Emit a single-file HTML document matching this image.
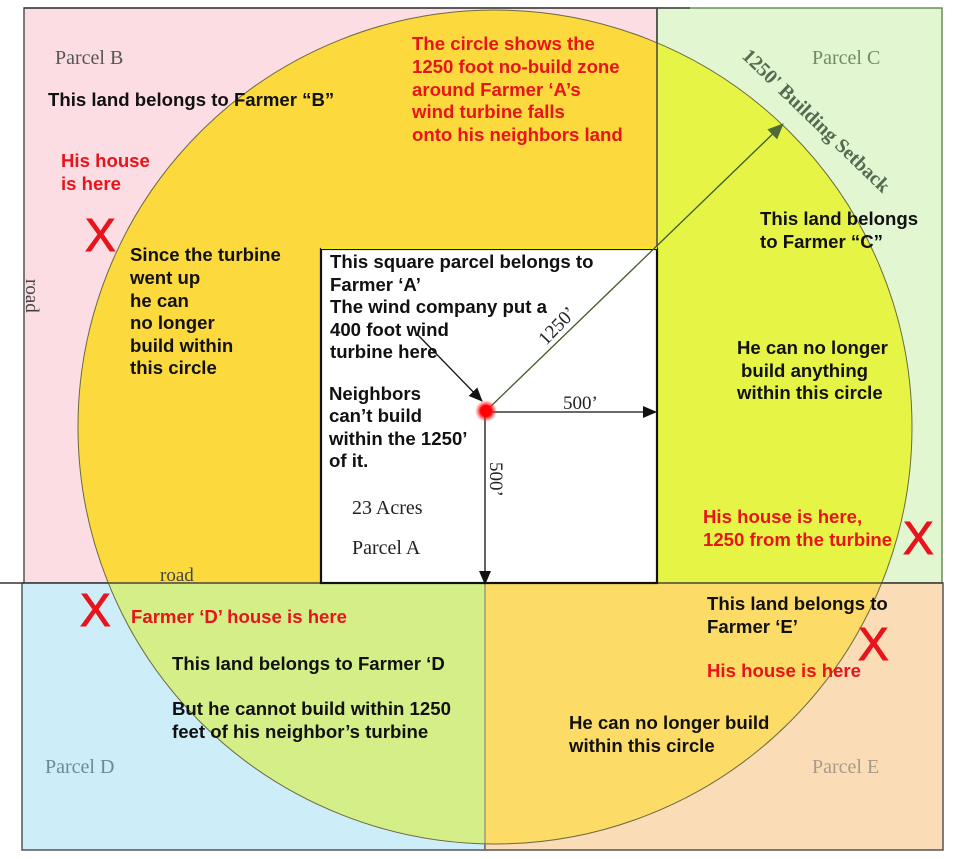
<!DOCTYPE html>
<html><head><meta charset="utf-8"><style>
html,body{margin:0;padding:0;background:#fff;}
svg{display:block;}
.b{font-family:"Liberation Sans",Arial,sans-serif;font-weight:bold;font-size:18.6px;fill:#111;}
.r{font-family:"Liberation Sans",Arial,sans-serif;font-weight:bold;font-size:18.6px;fill:#e8141c;}
.s{font-family:"Liberation Serif","Times New Roman",serif;font-size:20px;}
.x{font-family:"Liberation Sans",Arial,sans-serif;font-size:46px;fill:#e8141c;stroke:#e8141c;stroke-width:1;}
</style></head><body>
<svg width="960" height="859" viewBox="0 0 960 859" xmlns="http://www.w3.org/2000/svg">
<defs>
<clipPath id="cB"><rect x="24" y="8" width="633" height="575"/></clipPath>
<clipPath id="cC"><rect x="657" y="8" width="285" height="575"/></clipPath>
<clipPath id="cD"><rect x="22" y="583" width="463" height="267"/></clipPath>
<clipPath id="cE"><rect x="485" y="583" width="458" height="267"/></clipPath>
<marker id="ar" markerWidth="14" markerHeight="14" refX="13" refY="7" orient="auto" markerUnits="userSpaceOnUse"><path d="M0,1 L14,7 L0,13 z" fill="#111"/></marker>
<marker id="ag" markerWidth="16" markerHeight="16" refX="15" refY="8" orient="auto" markerUnits="userSpaceOnUse"><path d="M0,1 L16,8 L0,15 z" fill="#4f6b35"/></marker>
<radialGradient id="dot"><stop offset="0.5" stop-color="#ff0000"/><stop offset="1" stop-color="#ff4040" stop-opacity="0"/></radialGradient>
</defs>
<rect x="24" y="8" width="633" height="575" fill="#fcdde3" stroke="#555" stroke-width="1.5"/>
<rect x="657" y="8" width="285" height="575" fill="#e2f6d2" stroke="#6b8f55" stroke-width="1.5"/>
<rect x="22" y="583" width="463" height="267" fill="#cdeef9" stroke="#555" stroke-width="1.5"/>
<rect x="485" y="583" width="458" height="267" fill="#fadcb6" stroke="#555" stroke-width="1.5"/>
<line x1="0" y1="583" x2="24" y2="583" stroke="#333" stroke-width="1.5"/>
<line x1="24" y1="8" x2="690" y2="8" stroke="#444" stroke-width="1.5"/>
<circle cx="495" cy="427" r="417" fill="#fcd93c" clip-path="url(#cB)"/>
<circle cx="495" cy="427" r="417" fill="#e6f545" clip-path="url(#cC)"/>
<circle cx="495" cy="427" r="417" fill="#d4ee88" clip-path="url(#cD)"/>
<circle cx="495" cy="427" r="417" fill="#fcdb66" clip-path="url(#cE)"/>
<circle cx="495" cy="427" r="417" fill="none" stroke="#6a6a40" stroke-width="1"/>
<line x1="657" y1="8" x2="657" y2="583" stroke="#444" stroke-width="1.5"/>
<line x1="24" y1="583" x2="943" y2="583" stroke="#444" stroke-width="1.5"/>
<line x1="485" y1="583" x2="485" y2="850" stroke="#777" stroke-width="1"/>
<rect x="321" y="249" width="336" height="334" fill="#fff" stroke="#111" stroke-width="2.2"/>
<line x1="321" y1="248" x2="657" y2="248" stroke="#f5f000" stroke-width="2"/>
<line x1="487" y1="410" x2="783" y2="124" stroke="#3f5a2a" stroke-width="1.3" marker-end="url(#ag)"/>
<line x1="487" y1="412" x2="656" y2="412" stroke="#111" stroke-width="1.3" marker-end="url(#ar)"/>
<line x1="485" y1="412" x2="485" y2="584" stroke="#111" stroke-width="1.3" marker-end="url(#ar)"/>
<line x1="417" y1="334" x2="482" y2="401" stroke="#111" stroke-width="1.3" marker-end="url(#ar)"/>
<circle cx="486" cy="411" r="11" fill="url(#dot)"/>
<text class="s" x="55" y="64" fill="#555">Parcel B</text>
<text class="s" x="812" y="64" fill="#6f8a6a">Parcel C</text>
<text class="s" x="45" y="773" fill="#6c8a95">Parcel D</text>
<text class="s" x="812" y="773" fill="#a89a8a">Parcel E</text>
<text class="s" x="352" y="514" fill="#222">23 Acres</text>
<text class="s" x="352" y="554" fill="#222">Parcel A</text>
<text class="s" x="160" y="581" fill="#444" style="font-size:19px">road</text>
<text class="s" transform="translate(26,279) rotate(90)" fill="#444" style="font-size:19px">road</text>
<text class="s" x="563" y="409" fill="#222" style="font-size:19px">500’</text>
<text class="s" transform="translate(490,462) rotate(90)" fill="#222" style="font-size:19px">500’</text>
<text class="s" transform="translate(546,346) rotate(-46)" fill="#222" style="font-size:19px">1250’</text>
<text class="s" transform="translate(741,57) rotate(44)" fill="#556b4f" style="font-size:20px;font-weight:bold">1250' Building Setback</text>
<text class="b" x="48" y="106">This land belongs to  Farmer “B”</text>
<text class="r"><tspan x="412" y="50">The circle shows the</tspan><tspan x="412" y="73">1250 foot no-build zone</tspan><tspan x="412" y="96">around Farmer ‘A’s</tspan><tspan x="412" y="118">wind turbine falls</tspan><tspan x="412" y="141">onto his neighbors land</tspan></text>
<text class="r"><tspan x="61" y="167">His house</tspan><tspan x="61" y="190">is here</tspan></text>
<text class="x" x="85" y="251">X</text>
<text class="b"><tspan x="130" y="261">Since the turbine</tspan><tspan x="130" y="284">went up</tspan><tspan x="130" y="307">he can</tspan><tspan x="130" y="329">no longer</tspan><tspan x="130" y="352">build within</tspan><tspan x="130" y="374">this circle</tspan></text>
<text class="b"><tspan x="330" y="268">This square parcel belongs to</tspan><tspan x="330" y="291">Farmer ‘A’</tspan><tspan x="330" y="313">The wind company put a</tspan><tspan x="330" y="336">400 foot wind</tspan><tspan x="330" y="358">turbine here</tspan><tspan x="329" y="400">Neighbors</tspan><tspan x="329" y="422">can’t build</tspan><tspan x="329" y="445">within  the 1250’</tspan><tspan x="329" y="467">of it.</tspan></text>
<text class="b"><tspan x="760" y="225">This land belongs</tspan><tspan x="760" y="248">to Farmer “C”</tspan></text>
<text class="b"><tspan x="737" y="354">He can no longer</tspan><tspan x="741" y="377">build anything</tspan><tspan x="737" y="399">within this circle</tspan></text>
<text class="r"><tspan x="703" y="523">His house is here,</tspan><tspan x="703" y="546">1250 from the turbine</tspan></text>
<text class="x" x="903" y="554">X</text>
<text class="x" x="80" y="626">X</text>
<text class="r" x="131" y="623">Farmer ‘D’ house is here</text>
<text class="b" x="172" y="670">This land belongs to Farmer ‘D</text>
<text class="b"><tspan x="172" y="715">But he cannot build within 1250</tspan><tspan x="172" y="738">feet of his neighbor’s turbine</tspan></text>
<text class="b"><tspan x="707" y="610">This land belongs to</tspan><tspan x="707" y="633">Farmer ‘E’</tspan></text>
<text class="x" x="858" y="660">X</text>
<text class="r" x="707" y="677">His house is here</text>
<text class="b"><tspan x="569" y="729">He can no longer build</tspan><tspan x="569" y="752">within this circle</tspan></text>
</svg>
</body></html>
